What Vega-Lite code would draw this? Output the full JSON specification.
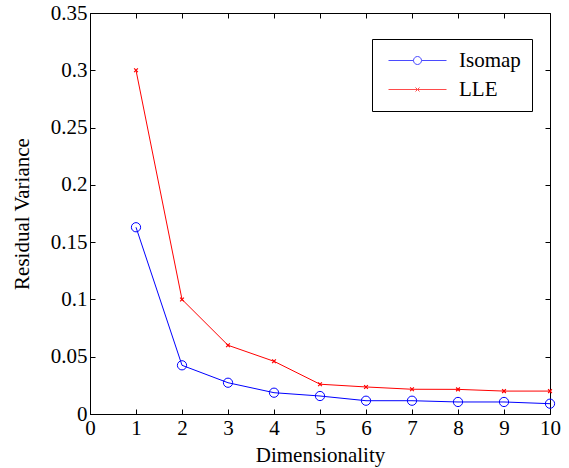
{
  "$schema": "https://vega.github.io/schema/vega-lite/v6.json",
  "width": 460,
  "height": 401,
  "autosize": {"type": "none"},
  "padding": {"left": 90, "top": 13, "right": 19, "bottom": 54},
  "background": "white",
  "config": {
    "view": {"stroke": "black", "strokeWidth": 1},
    "font": "Liberation Serif",
    "axis": {
      "labelFont": "Liberation Serif",
      "labelFontSize": 21,
      "labelColor": "black",
      "titleFont": "Liberation Serif",
      "titleFontSize": 21,
      "titleFontWeight": "normal",
      "titleColor": "black",
      "domainColor": "black",
      "tickColor": "black",
      "tickSize": -5,
      "grid": false
    }
  },
  "data": {
    "values": [
      {"d": 1, "v": 0.163, "s": "Isomap"},
      {"d": 2, "v": 0.0425, "s": "Isomap"},
      {"d": 3, "v": 0.0273, "s": "Isomap"},
      {"d": 4, "v": 0.0186, "s": "Isomap"},
      {"d": 5, "v": 0.0157, "s": "Isomap"},
      {"d": 6, "v": 0.0116, "s": "Isomap"},
      {"d": 7, "v": 0.0116, "s": "Isomap"},
      {"d": 8, "v": 0.0105, "s": "Isomap"},
      {"d": 9, "v": 0.0105, "s": "Isomap"},
      {"d": 10, "v": 0.009, "s": "Isomap"},
      {"d": 1, "v": 0.3, "s": "LLE"},
      {"d": 2, "v": 0.1, "s": "LLE"},
      {"d": 3, "v": 0.06, "s": "LLE"},
      {"d": 4, "v": 0.046, "s": "LLE"},
      {"d": 5, "v": 0.026, "s": "LLE"},
      {"d": 6, "v": 0.0236, "s": "LLE"},
      {"d": 7, "v": 0.0216, "s": "LLE"},
      {"d": 8, "v": 0.0215, "s": "LLE"},
      {"d": 9, "v": 0.02, "s": "LLE"},
      {"d": 10, "v": 0.02, "s": "LLE"}
    ]
  },
  "layer": [
    {
      "transform": [{"filter": "datum.s == 'Isomap'"}],
      "mark": {"type": "line", "strokeWidth": 1, "color": "#0000FF"},
      "encoding": {
        "x": {"field": "d", "type": "quantitative", "scale": {"domain": [0, 10], "nice": false, "zero": false},
          "axis": {"orient": "bottom", "values": [0,1,2,3,4,5,6,7,8,9,10], "title": "Dimensionality", "labelPadding": 8, "titlePadding": 6, "labelFlush": false}},
        "y": {"field": "v", "type": "quantitative", "scale": {"domain": [0, 0.35], "nice": false},
          "axis": {"orient": "left", "values": [0,0.05,0.1,0.15,0.2,0.25,0.3,0.35], "format": "~g", "title": "Residual Variance", "labelPadding": 8, "titleX": -58, "labelFlush": false}}
      }
    },
    {
      "transform": [{"filter": "datum.s == 'LLE'"}],
      "mark": {"type": "line", "strokeWidth": 1, "stroke": "#FF0000"},
      "encoding": {
        "x": {"field": "d", "type": "quantitative", "scale": {"domain": [0, 10], "nice": false, "zero": false}, "axis": null},
        "y": {"field": "v", "type": "quantitative", "scale": {"domain": [0, 0.35], "nice": false}, "axis": null}
      }
    },
    {
      "transform": [{"filter": "datum.s == 'Isomap'"}],
      "mark": {"type": "point", "filled": false, "strokeWidth": 1, "opacity": 1, "color": "#0000FF", "shape": "circle", "size": 85},
      "encoding": {
        "x": {"field": "d", "type": "quantitative", "scale": {"domain": [0, 10], "nice": false, "zero": false},
          "axis": {"orient": "top", "values": [0,1,2,3,4,5,6,7,8,9,10], "labels": false, "title": null, "domain": false}},
        "y": {"field": "v", "type": "quantitative", "scale": {"domain": [0, 0.35], "nice": false},
          "axis": {"orient": "right", "values": [0,0.05,0.1,0.15,0.2,0.25,0.3,0.35], "labels": false, "title": null, "domain": false}}
      }
    },
    {
      "transform": [{"filter": "datum.s == 'LLE'"}],
      "mark": {"type": "point", "filled": false, "strokeWidth": 1.2, "opacity": 1, "color": "#FF0000", "shape": "M-1,-1L1,1M-1,1L1,-1", "size": 14},
      "encoding": {
        "x": {"field": "d", "type": "quantitative", "scale": {"domain": [0, 10], "nice": false, "zero": false}, "axis": null},
        "y": {"field": "v", "type": "quantitative", "scale": {"domain": [0, 0.35], "nice": false}, "axis": null}
      }
    },
    {
      "transform": [{"filter": "datum.v < 0"}],
      "mark": {"type": "point", "filled": false, "strokeWidth": 1},
      "encoding": {
        "x": {"field": "d", "type": "quantitative", "scale": {"domain": [0, 10], "nice": false, "zero": false}, "axis": null},
        "y": {"field": "v", "type": "quantitative", "scale": {"domain": [0, 0.35], "nice": false}, "axis": null},
        "color": {"field": "s", "type": "nominal", "scale": {"domain": ["Isomap", "LLE"], "range": ["#0000FF", "#FF0000"]},
          "legend": {"title": null, "orient": "none", "legendX": 282, "legendY": 26, "labelFont": "Liberation Serif", "labelFontSize": 21, "labelColor": "black", "strokeColor": "black", "fillColor": "white", "padding": 11, "symbolSize": 100, "symbolStrokeWidth": 1, "labelOffset": 55, "rowPadding": 7}},
        "shape": {"field": "s", "type": "nominal", "scale": {"domain": ["Isomap", "LLE"], "range": ["M-1,0L4,0M5.6,0L10.6,0M4,0A0.8,0.8 0 1,1 5.6,0A0.8,0.8 0 1,1 4,0", "M-1,0L10.6,0M4.4,-0.4L5.2,0.4M4.4,0.4L5.2,-0.4"]},
          "legend": {"title": null, "orient": "none", "legendX": 282, "legendY": 26, "labelFont": "Liberation Serif", "labelFontSize": 21, "labelColor": "black", "strokeColor": "black", "fillColor": "white", "padding": 11, "symbolSize": 100, "symbolStrokeWidth": 1, "labelOffset": 55, "rowPadding": 7}}
      }
    }
  ],
  "resolve": {
    "scale": {"color": "independent", "shape": "independent"},
    "axis": {"x": "independent", "y": "independent"}
  }
}
